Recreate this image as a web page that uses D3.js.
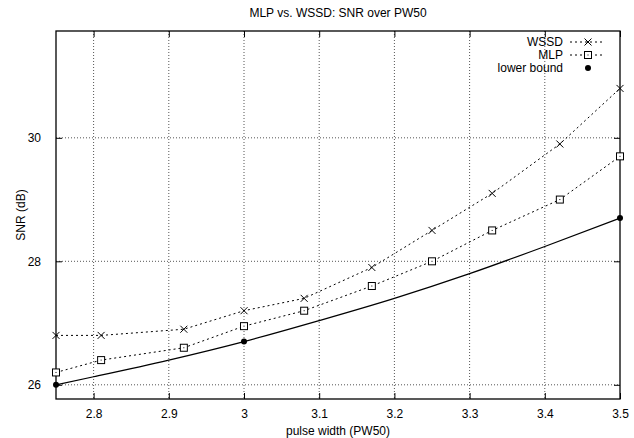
<!DOCTYPE html>
<html><head><meta charset="utf-8">
<script src="https://cdn.jsdelivr.net/npm/d3@7"></script>
<style>
body{margin:0;background:#fff;}
text{font-family:"Liberation Sans",Arial,sans-serif;font-size:12px;fill:#000;}
</style></head>
<body><svg id="c" width="634" height="438"></svg>
<script>
const title = "MLP vs. WSSD: SNR over PW50";
const xLabel = "pulse width (PW50)";
const yLabel = "SNR (dB)";
const xTicks = [2.8, 2.9, 3.0, 3.1, 3.2, 3.3, 3.4, 3.5];
const yTicks = [26, 28, 30];
const pw = [2.75, 2.81, 2.92, 3.0, 3.08, 3.17, 3.25, 3.33, 3.42, 3.5];
const wssd = [26.8, 26.8, 26.9, 27.2, 27.4, 27.9, 28.5, 29.1, 29.9, 30.8];
const mlp = [26.2, 26.4, 26.6, 26.95, 27.2, 27.6, 28.0, 28.5, 29.0, 29.7];
const lbLineX = [2.75, 2.8, 2.9, 3.0, 3.1, 3.2, 3.3, 3.4, 3.5];
const lbLineY = [26.0, 26.13, 26.40, 26.70, 27.04, 27.40, 27.80, 28.24, 28.70];
const lbPtX = [2.75, 3.0, 3.5];
const lbPtY = [26.0, 26.7, 28.7];
const seriesNames = ["WSSD", "MLP", "lower bound"];

const svg = d3.select("#c");
const L = 56, R = 620, T = 31, B = 399;
const x = d3.scaleLinear().domain([2.75, 3.5]).range([L, R]);
const y = d3.scaleLinear().domain([25.77, 31.73]).range([B, T]);
const FS = 11.5;

// grid
const g = svg.append("g");
g.selectAll(".gx").data(xTicks.filter(v => v < 3.5)).join("line")
  .attr("x1", d => x(d)).attr("x2", d => x(d)).attr("y1", T).attr("y2", B)
  .attr("stroke", "#555").attr("stroke-width", 1).attr("stroke-dasharray", "1,2");
g.selectAll(".gy").data(yTicks).join("line")
  .attr("x1", L).attr("x2", R).attr("y1", d => y(d)).attr("y2", d => y(d))
  .attr("stroke", "#555").attr("stroke-width", 1).attr("stroke-dasharray", "1,2");

// axes (inward ticks, mirrored)
const tk = 6;
const fmt = d3.format("~g");
const axB = svg.append("g").attr("transform", `translate(0,${B})`)
  .call(d3.axisBottom(x).tickValues(xTicks).tickSize(-tk).tickPadding(10).tickFormat(fmt));
const axT = svg.append("g").attr("transform", `translate(0,${T})`)
  .call(d3.axisTop(x).tickValues(xTicks).tickSize(-tk).tickFormat(""));
const axL = svg.append("g").attr("transform", `translate(${L},0)`)
  .call(d3.axisLeft(y).tickValues(yTicks).tickSize(-tk).tickPadding(15).tickFormat(fmt));
const axR = svg.append("g").attr("transform", `translate(${R},0)`)
  .call(d3.axisRight(y).tickValues(yTicks).tickSize(-tk).tickFormat(""));
[axB, axT, axL, axR].forEach(a => {
  a.select(".domain").remove();
  a.selectAll("line").attr("stroke", "#000");
  a.selectAll("text").attr("font-family", "Liberation Sans, Arial, sans-serif").attr("font-size", FS).attr("fill", "#000");
});
svg.append("rect").attr("x", L).attr("y", T).attr("width", R - L).attr("height", B - T)
  .attr("fill", "none").attr("stroke", "#000").attr("stroke-width", 1.3);

// lines
const line = d3.line().x(d => x(d[0])).y(d => y(d[1]));
const wData = pw.map((v, i) => [v, wssd[i]]);
const mData = pw.map((v, i) => [v, mlp[i]]);
const lbData = lbLineX.map((v, i) => [v, lbLineY[i]]);
const lbPts = lbPtX.map((v, i) => [v, lbPtY[i]]);

svg.append("path").datum(wData).attr("d", line).attr("fill", "none")
  .attr("stroke", "#000").attr("stroke-width", 1).attr("stroke-dasharray", "2,3");
svg.append("path").datum(mData).attr("d", line).attr("fill", "none")
  .attr("stroke", "#000").attr("stroke-width", 1).attr("stroke-dasharray", "2,3");
svg.append("path").datum(lbData).attr("d", line.curve(d3.curveMonotoneX)).attr("fill", "none")
  .attr("stroke", "#000").attr("stroke-width", 1.2);

function cross(sel, cx, cy) {
  const s = 3.5;
  sel.append("path").attr("d", `M${cx - s},${cy - s}L${cx + s},${cy + s}M${cx - s},${cy + s}L${cx + s},${cy - s}`)
    .attr("stroke", "#000").attr("stroke-width", 1).attr("fill", "none");
}
function square(sel, cx, cy) {
  const s = 3.5;
  sel.append("rect").attr("x", cx - s).attr("y", cy - s).attr("width", 2 * s).attr("height", 2 * s)
    .attr("fill", "#fff").attr("stroke", "#000").attr("stroke-width", 1);
  sel.append("rect").attr("x", cx - 0.5).attr("y", cy - 0.5).attr("width", 1).attr("height", 1).attr("fill", "#000");
}
function dot(sel, cx, cy) {
  sel.append("circle").attr("cx", cx).attr("cy", cy).attr("r", 3).attr("fill", "#000");
}
const mk = svg.append("g");
wData.forEach(d => cross(mk, x(d[0]), y(d[1])));
mData.forEach(d => square(mk, x(d[0]), y(d[1])));
lbPts.forEach(d => dot(mk, x(d[0]), y(d[1])));

// legend
const lg = svg.append("g");
const ly = [42, 55, 68];
seriesNames.forEach((n, i) => {
  lg.append("text").attr("x", 563).attr("y", ly[i] + 4).attr("text-anchor", "end").attr("font-size", 11).text(n);
});
[0, 1].forEach(i => {
  lg.append("line").attr("x1", 570).attr("x2", 605).attr("y1", ly[i]).attr("y2", ly[i])
    .attr("stroke", "#000").attr("stroke-dasharray", "2,3");
});
cross(lg, 588, ly[0]);
square(lg, 588, ly[1]);
dot(lg, 588, ly[2]);

// titles
svg.append("text").attr("x", (L + R) / 2).attr("y", 17).attr("text-anchor", "middle").attr("font-size", FS).text(title);
svg.append("text").attr("x", (L + R) / 2).attr("y", 435).attr("text-anchor", "middle").attr("font-size", FS).text(xLabel);
svg.append("text").attr("transform", `translate(25,${(T + B) / 2}) rotate(-90)`).attr("text-anchor", "middle").attr("font-size", FS).text(yLabel);
</script></body></html>
